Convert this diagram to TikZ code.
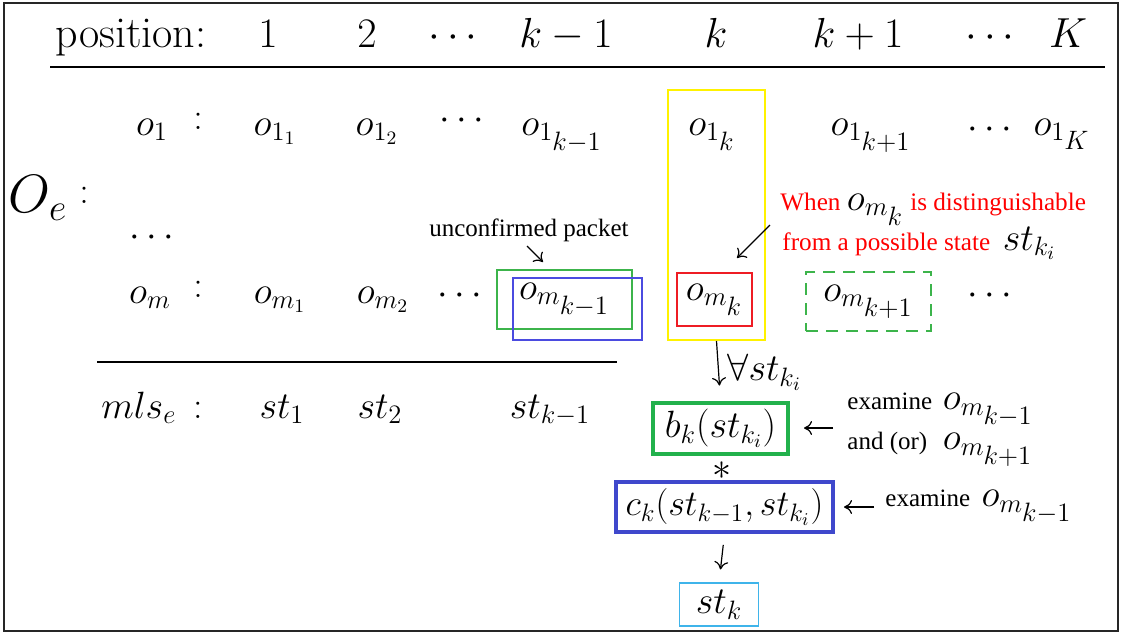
\RequirePackage{fix-cm}
\documentclass[tikz,border=0pt]{standalone}
\usepackage{fontspec}
\newfontfamily\timesf{Liberation Serif}
\usetikzlibrary{arrows.meta,calc}
\definecolor{pgreen}{HTML}{22B14C}
\definecolor{lgreen}{HTML}{3CB44B}
\definecolor{pblue}{HTML}{3F48CC}
\definecolor{lblue}{HTML}{4B4BE0}
\definecolor{pcyan}{HTML}{3FB4EA}
\definecolor{pred}{HTML}{EE1C24}
\definecolor{pyel}{HTML}{FFF200}
\newcommand{\lbl}[1]{{\timesf\fontsize{12.5}{15}\selectfont #1}}
\newcommand{\rtxt}[1]{{\color{red}\timesf\fontsize{12.6}{15}\selectfont #1}}
\newcommand{\sst}[1]{{\scriptstyle #1}}

\begin{document}
\begin{tikzpicture}[x=0.5pt,y=-0.5pt,
  every node/.style={font=\fontsize{19}{22}\selectfont, inner sep=1pt},
  txt/.style={anchor=base},
  hd/.style={anchor=base, font=\fontsize{21}{24}\selectfont},
  thinbox/.style={draw, line width=0.6pt, inner sep=0pt},
  fatbox/.style={draw, line width=2pt, inner sep=0pt},
  arr/.style={-{To[length=4pt,width=7pt]}, line width=0.6pt}]
\useasboundingbox (0,0) rectangle (1126,633);
\draw[line width=1.2pt, black!85] (4,3) rectangle (1118,631);

\node[hd, font=\fontsize{22}{25}\selectfont] (pos) at (131,47) {position:};
\foreach \x/\t [count=\i] in {268/1,367/2,453/\cdots,566/k-1,716/k,858/k+1,990/\cdots,1068/K}
  \node[hd] (h\i) at (\x,47) {$\t$};
\draw[line width=1pt] (50,67) -- (1105,67);

\node[font=\fontsize{27}{30}\selectfont] (oe) at (38,198) {$O_e$};
\node[txt] (c0) at (84,203) {$:$};

\foreach \x/\t [count=\i] in {152/o_1,275/o_{1_1},377/o_{1_2},562/o_{1_{\sst{k-1}}},712/o_{1_{\sst{k}}},871/o_{1_{\sst{k+1}}},1062/o_{1_{\sst{K}}}}
  \node[txt] (a\i) at (\x,135) {$\t$};
\foreach \x/\t [count=\i] in {150/o_m,280/o_{m_1},383/o_{m_2}}
  \node[txt] (b\i) at (\x,303) {$\t$};
\node[txt] (c1) at (198,129) {$:$};
\node[txt] (c2) at (198,297) {$:$};
\foreach \x/\y [count=\i] in {462/121,990/130,152/238,460/296,990/296}
  \node (d\i) at (\x,\y) {$\cdots$};

% boxes in row m
\node[thinbox, draw=lgreen, minimum width=67.5pt, minimum height=29.5pt] (omkm) at (564.5,299.5) {$o_{m_{\sst{k-1}}}$};
\node[thinbox, draw=lblue, minimum width=64.5pt, minimum height=31pt] (blu) at (577.5,309) {};
\node[thinbox, draw=pred, minimum width=37.5pt, minimum height=26.5pt] (omk) at (714.5,299.5) {$o_{m_{\sst{k}}}$};
\node[thinbox, draw=lgreen, dash pattern=on 6pt off 4pt, minimum width=62.5pt, minimum height=29.5pt] (omkp) at (868.5,301.5) {$o_{m_{\sst{k+1}}}$\hspace{6pt}};
\node[thinbox, draw=pyel, line width=1pt, minimum width=48.5pt, minimum height=125pt] (col) at (716.5,215) {};

\node[font=\timesf\fontsize{12.5}{15}\selectfont] (unc) at (529,230) {unconfirmed packet};
\coordinate (u1) at (527,246);
\coordinate (u2) at (543,262);
\draw[arr] (u1) -- (u2);

\node[anchor=base west] (red1) at (778,210) {\rtxt{When }$o_{m_{\sst{k}}}$\rtxt{ is distinguishable}};
\node[anchor=base west] (red2) at (780,250) {\rtxt{from a possible state }\,$st_{k_i}$};
\coordinate (r1) at (770,225);
\coordinate (r2) at (737,258);
\draw[arr] (r1) -- (r2);

\draw[line width=0.8pt] (97,362) -- (617,362);
\node[txt] (mls) at (152,418) {$mls_e\,:$};
\foreach \x/\t [count=\i] in {282/st_1,380/st_2,550/st_{k-1}}
  \node[txt] (s\i) at (\x,418) {$\t$};

% decision chain
\node[fatbox, draw=pgreen, minimum width=67.5pt, minimum height=25.5pt] (bk) at (720.5,428) {$b_k(st_{k_i})$};
\node[inner sep=0pt] (star) at (722,471) {$*$};
\node[fatbox, draw=pblue, minimum width=108.5pt, minimum height=25pt, font=\fontsize{18}{21}\selectfont] (ck) at (724.5,507) {$c_k(st_{k-1},st_{k_i})$};
\node[thinbox, draw=pcyan, minimum width=39.5pt, minimum height=21.5pt] (stk) at (719,604.5) {$st_k$};

\draw[arr, shorten >=7.5pt] (col.south) -- (bk.north);
\node[anchor=west] (fa) at (725,372) {$\forall st_{k_i}$};
\draw[arr, shorten <=5.5pt, shorten >=6.5pt] (ck.south) -- (stk.north);

\node[anchor=west, align=left, font=\fontsize{19}{20}\selectfont] (exa) at (845,430)
  {\lbl{\makebox[42pt][l]{examine}} $o_{m_{\sst{k-1}}}$\\ \lbl{\makebox[42pt][l]{and (or)}} $o_{m_{\sst{k+1}}}$};
\node[anchor=west] (exc) at (883,507) {\lbl{examine} $o_{m_{\sst{k-1}}}$};
\draw[arr, shorten <=6pt, shorten >=7pt] (exa.west |- bk.east) -- (bk.east);
\draw[arr, shorten <=4.5pt, shorten >=4.5pt] (exc.west |- ck.east) -- (ck.east);
\end{tikzpicture}
\end{document}
